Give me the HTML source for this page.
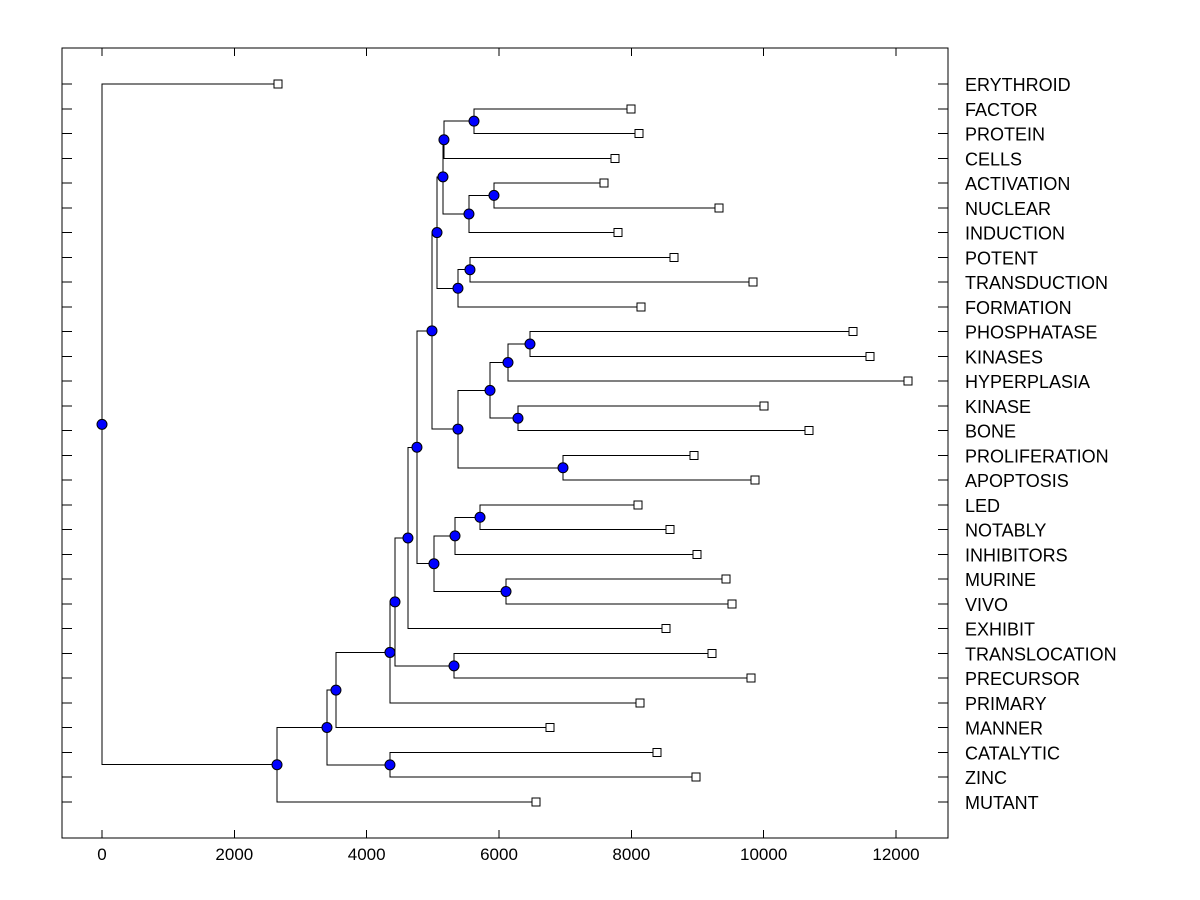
<!DOCTYPE html>
<html><head><meta charset="utf-8"><style>
body{margin:0;background:#fff;}
svg{display:block;font-family:"Liberation Sans",Arial,sans-serif;}
</style></head><body>
<svg id="chart" width="1200" height="900" xmlns="http://www.w3.org/2000/svg" shape-rendering="crispEdges"></svg>
<script>
const leafNames=["ERYTHROID","FACTOR","PROTEIN","CELLS","ACTIVATION","NUCLEAR","INDUCTION","POTENT","TRANSDUCTION","FORMATION","PHOSPHATASE","KINASES","HYPERPLASIA","KINASE","BONE","PROLIFERATION","APOPTOSIS","LED","NOTABLY","INHIBITORS","MURINE","VIVO","EXHIBIT","TRANSLOCATION","PRECURSOR","PRIMARY","MANNER","CATALYTIC","ZINC","MUTANT"];
const leafValues=[2660,7995,8115,7753,7587,9325,7798,8645,9838,8146,11350,11607,12181,10005,10685,8947,9869,8100,8584,8992,9430,9521,8524,9219,9808,8130,6770,8388,8977,6559];
const nodeNames=["Y","Z","X","W","T","V","U","M","S","Q","R","O","P","N","H","L","J","K","I","G","F","TP","E","D","C","CZ","B","A","ROOT"];
const nodeHeights=[5622,5924,5546,5168,5153,5561,5380,5063,6468,6136,6287,5864,6967,5380,4987,5713,5335,6106,5017,4760,4624,5320,4428,4352,3536,4352,3400,2645,0];
const nodeChildA=["FACTOR","ACTIVATION","Z","Y","W","POTENT","V","T","PHOSPHATASE","S","KINASE","Q","PROLIFERATION","O","M","LED","L","MURINE","J","H","G","TRANSLOCATION","F","E","D","CATALYTIC","C","B","ERYTHROID"];
const nodeChildB=["PROTEIN","NUCLEAR","INDUCTION","CELLS","X","TRANSDUCTION","FORMATION","U","KINASES","HYPERPLASIA","BONE","R","APOPTOSIS","P","N","NOTABLY","INHIBITORS","VIVO","K","I","EXHIBIT","PRECURSOR","TP","PRIMARY","MANNER","ZINC","CZ","MUTANT","A"];
const xTicks=[0,2000,4000,6000,8000,10000,12000];

const svg=document.getElementById('chart');
const NS='http://www.w3.org/2000/svg';
const L=62,R=948,T=48,B=838;
const xs=v=>102+v*(794/12000);
const ys=i=>84+i*(718/29);
function mk(tag,attrs){const e=document.createElementNS(NS,tag);for(const k in attrs)e.setAttribute(k,attrs[k]);svg.appendChild(e);return e;}

const frame=mk('rect',{x:L,y:T,width:R-L,height:B-T,fill:'none',stroke:'#000','stroke-width':1});



xTicks.forEach(v=>{
  const x=xs(v);
  const t1=mk('line',{x1:x,x2:x,y1:B,y2:B-8,stroke:'#000'});
  
  
  const t2=mk('line',{x1:x,x2:x,y1:T,y2:T+8,stroke:'#000'});
  
  
  const lb=mk('text',{x:x,y:860,'font-size':17,'text-anchor':'middle',fill:'#000','shape-rendering':'auto'});
  lb.textContent=v;
  
  
});

const pos={};
leafNames.forEach((n,i)=>{pos[n]={x:xs(leafValues[i]),y:ys(i)};});
nodeNames.forEach((n,i)=>{
  const a=pos[nodeChildA[i]],b=pos[nodeChildB[i]];
  pos[n]={x:xs(nodeHeights[i]),y:(a.y+b.y)/2};
});
leafNames.forEach((n,i)=>{
  const y=ys(i);
  const t1=mk('line',{x1:L,x2:L+10,y1:y,y2:y,stroke:'#000'});
  
  
  const t2=mk('line',{x1:R-10,x2:R,y1:y,y2:y,stroke:'#000'});
  
  
  const lb=mk('text',{x:965,y:y+7,'font-size':18,fill:'#000'});
  lb.textContent=n;
  
  
});
nodeNames.forEach((n,i)=>{
  const p=pos[n],a=pos[nodeChildA[i]],b=pos[nodeChildB[i]];
  const pl=mk('polyline',{points:`${a.x},${a.y} ${p.x},${a.y} ${p.x},${b.y} ${b.x},${b.y}`,fill:'none',stroke:'#000','stroke-width':1});
  
  
});
leafNames.forEach((n,i)=>{
  const p=pos[n];
  const r=mk('rect',{x:p.x-4,y:p.y-4,width:8,height:8,fill:'#fff',stroke:'#000'});
  
  
});
nodeNames.forEach((n,i)=>{
  const p=pos[n];
  const c=mk('circle',{cx:p.x,cy:p.y,r:5,fill:'#0000ff',stroke:'#000','shape-rendering':'auto'});
  
  
});
</script>
</body></html>
